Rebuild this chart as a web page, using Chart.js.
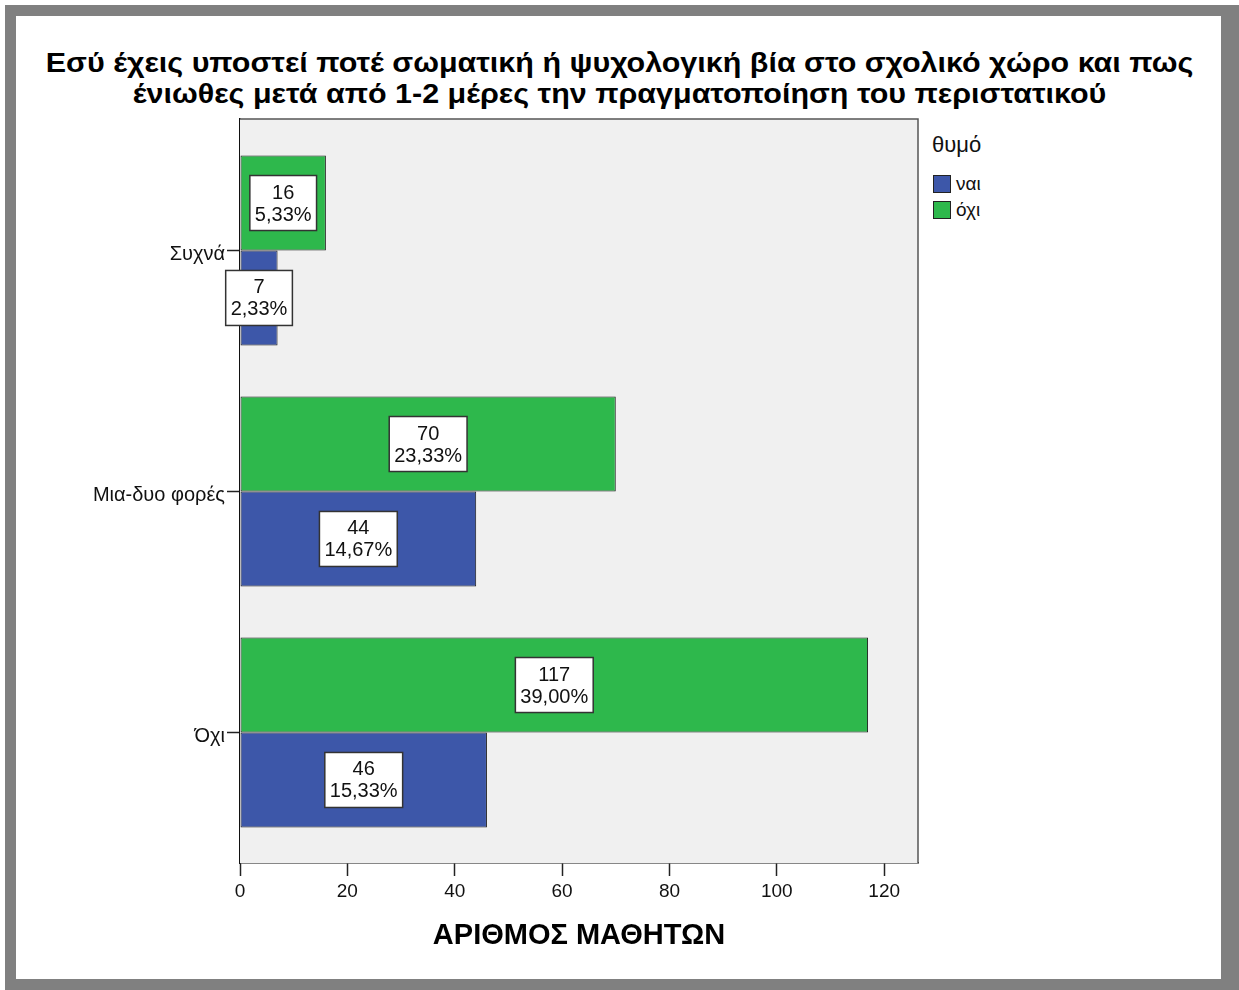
<!DOCTYPE html>
<html>
<head>
<meta charset="utf-8">
<script src="https://cdn.jsdelivr.net/npm/chart.js@4.4.1/dist/chart.umd.min.js"></script>
<style>
  body { margin: 0; background: #fff; font-family: "Liberation Sans", Arial, sans-serif; }
  #frame { position: absolute; left: 5px; top: 5px; width: 1234px; height: 985px; background: #808080; }
  #inner { position: absolute; left: 16px; top: 16px; width: 1205px; height: 963px; background: #fff; }
  #title { position: absolute; left: 0; top: 47px; width: 1239px; text-align: center;
           font-weight: bold; font-size: 28px; line-height: 31px; color: #000;
           transform: scaleX(1.088); transform-origin: 619px 0; }
  #legend { position: absolute; left: 932px; top: 131px; color: #111; }
  #legend .lt { font-size: 22px; line-height: 28px; margin-bottom: 12px; }
  #legend .it { display: flex; align-items: center; height: 26px; font-size: 19px; }
  #legend .sw { width: 16px; height: 16px; border: 1px solid #222; margin-right: 5px; margin-left: 1px; }
  canvas { position: absolute; left: 0; top: 0; }
</style>
</head>
<body>
<div id="frame"></div>
<div id="inner"></div>
<div id="title">Εσύ έχεις υποστεί ποτέ σωματική ή ψυχολογική βία στο σχολικό χώρο και πως<br>ένιωθες μετά από 1-2 μέρες την πραγματοποίηση του περιστατικού</div>
<div id="legend"></div>
<canvas id="myChart" width="1239" height="990"></canvas>
<script>
// categories (top to bottom)
const categories = ["Συχνά", "Μια-δυο φορές", "Όχι"];
// θυμό = ναι
const naiValues = [7, 44, 46];
const naiPct = ["2,33%", "14,67%", "15,33%"];
// θυμό = όχι
const oxiValues = [16, 70, 117];
const oxiPct = ["5,33%", "23,33%", "39,00%"];
const xTicks = [0, 20, 40, 60, 80, 100, 120];

const blue = "#3d57a9";
const green = "#2eb84c";

// green drawn first so it sits on top of each pair
const datasets = [
  { label: "όχι", data: oxiValues.map((v, i) => ({ x: v, y: i })), pct: oxiPct, backgroundColor: green },
  { label: "ναι", data: naiValues.map((v, i) => ({ x: v, y: i })), pct: naiPct, backgroundColor: blue },
];

const plotBg = {
  id: "plotBg",
  beforeDatasetsDraw(chart) {
    const { ctx, chartArea: a } = chart;
    ctx.save();
    ctx.fillStyle = "#f0f0f0";
    ctx.fillRect(a.left, a.top, a.right - a.left, a.bottom - a.top);
    ctx.strokeStyle = "#555";
    ctx.lineWidth = 1.5;
    ctx.beginPath();
    ctx.moveTo(a.left, a.top);
    ctx.lineTo(a.right, a.top);
    ctx.lineTo(a.right, a.bottom);
    ctx.stroke();
    ctx.restore();
  },
};

const boxLabels = {
  id: "boxLabels",
  afterDatasetsDraw(chart) {
    const ctx = chart.ctx;
    ctx.save();
    ctx.font = "20px 'Liberation Sans', Arial, sans-serif";
    ctx.textAlign = "center";
    ctx.textBaseline = "middle";
    chart.data.datasets.forEach((ds, di) => {
      chart.getDatasetMeta(di).data.forEach((bar, i) => {
        const lines = [String(ds.data[i].x), ds.pct[i]];
        const cx = (bar.x + bar.base) / 2;
        const cy = bar.y;
        const w = Math.max(...lines.map(t => ctx.measureText(t).width)) + 10;
        const h = 55;
        ctx.fillStyle = "#fff";
        ctx.fillRect(cx - w / 2, cy - h / 2, w, h);
        ctx.strokeStyle = "#333";
        ctx.lineWidth = 1.5;
        ctx.strokeRect(cx - w / 2, cy - h / 2, w, h);
        ctx.fillStyle = "#111";
        ctx.fillText(lines[0], cx, cy - 10);
        ctx.fillText(lines[1], cx, cy + 12);
      });
    });
    ctx.restore();
  },
};

let ctx = document.getElementById("myChart");
let theChart = new Chart(ctx, {
  type: "bar",
  data: { datasets: datasets },
  plugins: [plotBg, boxLabels],
  options: {
    responsive: false,
    animation: false,
    indexAxis: "y",
    layout: { padding: { top: 119, right: 321, left: 0, bottom: 0 } },
    datasets: {
      bar: {
        categoryPercentage: 0.788,
        barPercentage: 1,
        borderColor: "#1a1a1a",
        borderWidth: 1,
        borderSkipped: false,
      },
    },
    plugins: {
      legend: { display: false },
      tooltip: { enabled: false },
    },
    scales: {
      x: {
        type: "linear",
        min: 0,
        max: 126.3,
        afterFit: (s) => { s.height = 127; },
        afterBuildTicks: (s) => { s.ticks = xTicks.map(v => ({ value: v })); },
        grid: { drawOnChartArea: false, drawTicks: true, tickLength: 13, tickColor: "#222", tickWidth: 1.5 },
        border: { display: true, color: "#111", width: 1.5 },
        ticks: { color: "#111", font: { family: "'Liberation Sans'", size: 19 }, padding: 4 },
        title: {
          display: true,
          text: "ΑΡΙΘΜΟΣ ΜΑΘΗΤΩΝ",
          color: "#000",
          font: { family: "'Liberation Sans'", size: 29, weight: "bold", lineHeight: 1.2 },
          padding: { top: 0, bottom: 37 },
        },
      },
      y: {
        type: "linear",
        reverse: true,
        offset: false,
        min: -0.5456,
        max: 2.5415,
        afterFit: (s) => { s.width = 240; },
        afterBuildTicks: (s) => { s.ticks = categories.map((c, i) => ({ value: i })); },
        grid: { offset: false, drawOnChartArea: false, drawTicks: true, tickLength: 13, tickColor: "#222", tickWidth: 1.5 },
        border: { display: true, color: "#111", width: 1.5 },
        ticks: {
          color: "#111",
          font: { family: "'Liberation Sans'", size: 20 },
          padding: 2,
          labelOffset: 4,
          callback: (v) => categories[v],
        },
      },
    },
  },
});

// legend in the same order as the reference (ναι, όχι)
const legend = document.getElementById("legend");
let html = '<div class="lt">θυμό</div>';
[datasets[1], datasets[0]].forEach(ds => {
  html += '<div class="it"><span class="sw" style="background:' + ds.backgroundColor + '"></span>' + ds.label + '</div>';
});
legend.innerHTML = html;
</script>
</body>
</html>
